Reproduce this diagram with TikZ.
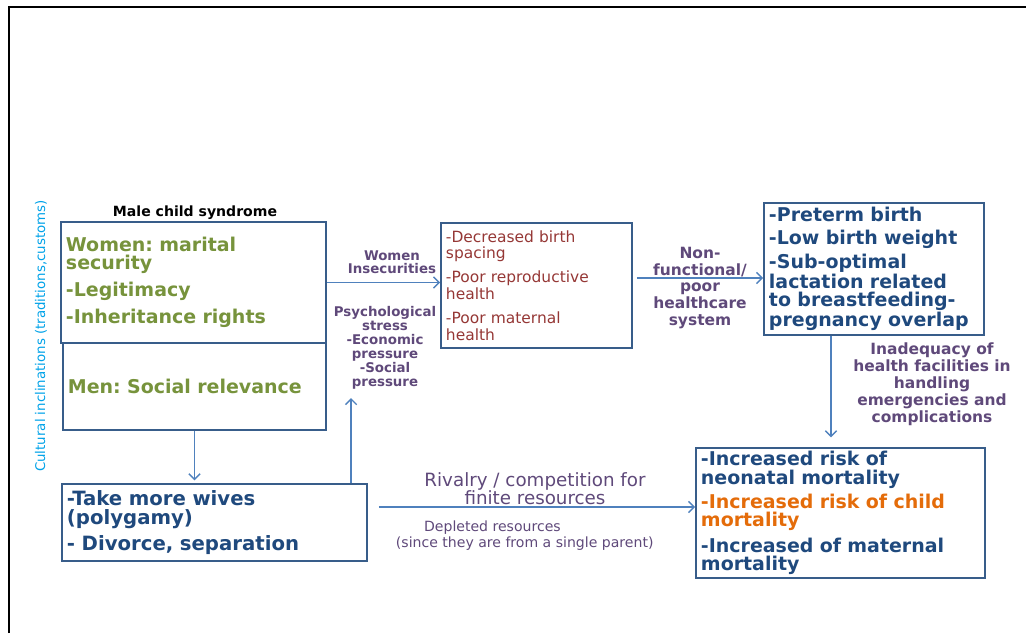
\documentclass[tikz,border=0pt]{standalone}
\usepackage{fontspec}
\setmainfont{DejaVu Sans}
\usepackage{xcolor}
\usetikzlibrary{arrows.meta, positioning, calc}

\definecolor{boxline}{HTML}{385D8A}
\definecolor{arrowblue}{HTML}{4F81BD}
\definecolor{txtolive}{HTML}{77933C}
\definecolor{txtred}{HTML}{953735}
\definecolor{txtnavy}{HTML}{1F497D}
\definecolor{txtorange}{HTML}{E46C0A}
\definecolor{txtplum}{HTML}{5F497A}
\definecolor{txtcyan}{HTML}{00A2E8}

\begin{document}
\frenchspacing
\begin{tikzpicture}[
			x=0.025cm, y=-0.025cm,
			box/.style={rectangle, draw=boxline, line width=1.2pt, inner xsep=0.125cm, inner ysep=0pt, align=left},
			boldtxt/.style={font=\fontsize{13.5}{13}\selectfont\bfseries},
			arrow/.style={-{Straight Barb[length=4pt,width=8pt]}, line width=1pt, color=arrowblue},
			note/.style={align=center, text=txtplum, font=\fontsize{11}{12}\selectfont\bfseries}
			]
			
			\useasboundingbox (0,0) rectangle (1026,633);
			\draw[line width=2pt] (9,633) -- (9,7) -- (1026,7);
			
			% --- Column 1: Male child syndrome ---
			\node[font=\fontsize{10}{10}\selectfont\bfseries] (syndrome) at (195,213) {Male child syndrome};
			\node[rotate=90, text=txtcyan, font=\fontsize{9.5}{10}\selectfont] (culture) at (41,336) {Cultural inclinations (traditions,customs)};
			\node[box, boldtxt, text=txtolive, text width=6.375cm, minimum height=3.025cm] (security) at (193.5,282.5) {Women: marital\\security\\[5pt]-Legitimacy\\[5pt]-Inheritance rights};
			\node[box, boldtxt, text=txtolive, text width=6.325cm, minimum height=2.175cm] (relevance) at (194.5,386.5) {Men: Social relevance};
			\node[box, font=\fontsize{14}{14}\selectfont\bfseries, text=txtnavy, text width=7.375cm, minimum height=1.925cm] (wives) at (214.5,522.5) {-Take more wives\\(polygamy)\\[4.5pt]- Divorce, separation};
			
			% --- Column 2: Effects on women ---
			\node[box, font=\fontsize{11}{12}\selectfont, text=txtred, text width=4.525cm, minimum height=3.125cm] (effects) at (536.5,285.5) {-Decreased birth\\spacing\\[5pt]-Poor reproductive\\health\\[5pt]-Poor maternal\\health};
			\node[note, font=\fontsize{9.5}{9.5}\selectfont\bfseries] (insec) at (392,262) {Women\\Insecurities};
			\node[note, font=\fontsize{9.5}{10}\selectfont\bfseries] (stress) at (385,348) {Psychological\\stress\\-Economic\\pressure\\-Social\\pressure};
			\coordinate (stressfoot) at (351,398);
			
			% --- Column 3: Birth outcomes and mortality ---
			\node[box, boldtxt, text=txtnavy, text width=5.25cm, minimum height=3.3cm] (births) at (874,269) {-Preterm birth\\[3pt]-Low birth weight\\[3pt]-Sub-optimal\\lactation related\\to breastfeeding-\\pregnancy overlap};
			\node[box, boldtxt, text=txtnavy, text width=6.975cm, minimum height=3.25cm] (mortality) at (840.5,513) {-Increased risk of\\neonatal mortality\\[3pt]\textcolor{txtorange}{-Increased risk of child}\\\textcolor{txtorange}{mortality}\\[4pt]-Increased of maternal\\mortality};
			\node[note] (system) at (700,288) {Non-\\functional/\\poor\\healthcare\\system};
			\node[note] (facil) at (932,384) {Inadequacy of\\health facilities in\\handling\\emergencies and\\complications};
			\node[note, font=\fontsize{13}{13}\selectfont\mdseries] (rival) at (535,489) {Rivalry / competition for\\finite resources};
			\node[anchor=north west, align=left, text=txtplum, font=\fontsize{10}{11}\selectfont] (deplete) at (391,516) {\hspace*{20pt}Depleted resources\\(since they are from a single parent)};
			
			% --- Connectors ---
			\draw[arrow] (security.east) -- (security.east -| effects.west);
			\draw[arrow] ([xshift=0.1cm, yshift=0.19cm]effects.east) -- ([yshift=0.19cm]effects.east -| births.west);
			\draw[arrow, shorten >=7pt] ([xshift=-1.075cm]births.south) -- ([xshift=-1.075cm]births.south |- mortality.north);
			\draw[arrow, shorten >=2pt] (relevance.south) -- (relevance.south |- wives.north);
			\draw[arrow] (wives.north -| stressfoot) -- (stressfoot);
			\draw[arrow] ([xshift=0.275cm, yshift=0.39cm]wives.east) -- ([yshift=0.39cm]wives.east -| mortality.west);
			
			\end{tikzpicture}
\end{document}
